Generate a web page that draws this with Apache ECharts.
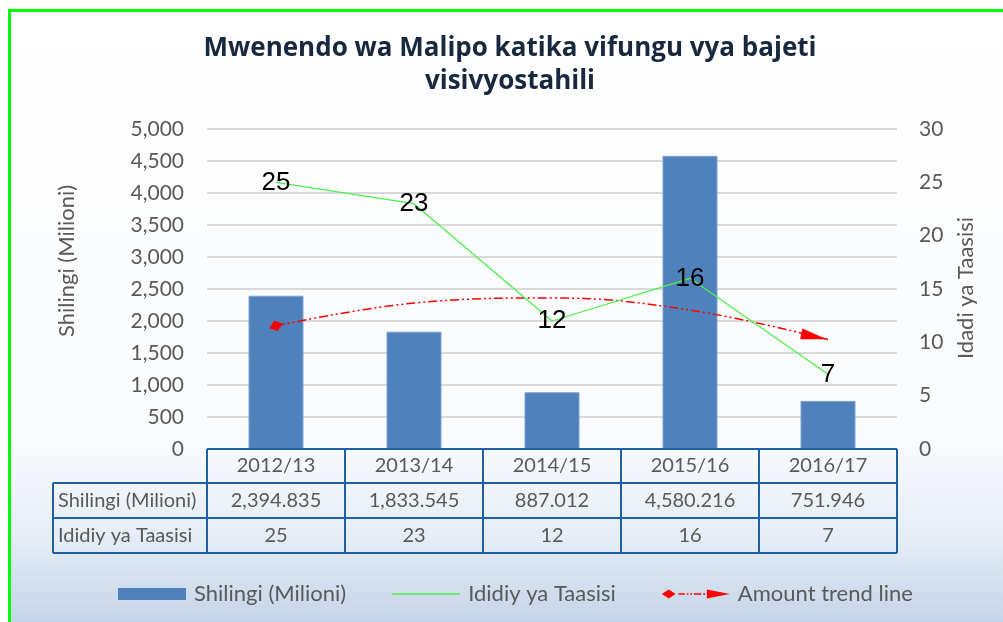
<!DOCTYPE html>
<html>
<head>
<meta charset="utf-8">
<script src="https://cdn.jsdelivr.net/npm/echarts@6/dist/echarts.min.js"></script>
<style>
html,body{margin:0;padding:0;background:#fff;overflow:hidden;}
#c{width:1003px;height:622px;}
</style>
</head>
<body>
<div id="c"></div>
<script>
// ---- data ----
const categories = ['2012/13', '2013/14', '2014/15', '2015/16', '2016/17'];
const amountLabel = 'Shilingi (Milioni)';
const countLabel = 'Ididiy ya Taasisi';
const trendLabel = 'Amount trend line';
const amounts = [2394.835, 1833.545, 887.012, 4580.216, 751.946];
const amountText = ['2,394.835', '1,833.545', '887.012', '4,580.216', '751.946'];
const counts = [25, 23, 12, 16, 7];
// trend line values
const trendValues = [1925, 2280, 2360, 2170, 1710];
const leftTicks = { min: 0, max: 5000, interval: 500 };
const rightTicks = { min: 0, max: 30, interval: 5 };
const titleText = 'Mwenendo wa Malipo katika vifungu vya bajeti\nvisivyostahili';
const leftAxisName = 'Shilingi (Milioni)';
const rightAxisName = 'Idadi ya Taasisi';

// ---- layout ----
const G = { left: 207, right: 897, top: 129, bottom: 449 };
const rows = [449, 483, 518, 553];
const labelColLeft = 53;
const FONT = 'Lato, "Noto Sans", sans-serif';
const GREY = '#595959';
const TBL = '#1f5fa3';
const GREEN = '#4cf04c';

const chart = echarts.init(document.getElementById('c'), null, { renderer: 'canvas' });

function buildTable() {
  const els = [];
  const n = categories.length;
  const cw = (G.right - G.left) / n;
  const line = (x1, y1, x2, y2) => ({
    type: 'line', silent: true, z: 20,
    shape: { x1, y1, x2, y2 },
    style: { stroke: TBL, lineWidth: 2 }
  });
  els.push(line(G.left, rows[0], G.right, rows[0]));
  for (let r = 1; r < rows.length; r++) els.push(line(labelColLeft, rows[r], G.right, rows[r]));
  els.push(line(labelColLeft, rows[1], labelColLeft, rows[3]));
  for (let i = 0; i <= n; i++) {
    const x = G.left + i * cw;
    els.push(line(x, rows[0], x, rows[3]));
  }
  const txt = (x, y, t, align) => ({
    type: 'text', silent: true, z: 21,
    style: { x, y, text: t, textAlign: align || 'center', textVerticalAlign: 'middle',
      font: '20px ' + FONT, fill: GREY }
  });
  const rowText = [categories, amountText, counts.map(String)];
  for (let r = 0; r < 3; r++) {
    const cy = (rows[r] + rows[r + 1]) / 2;
    for (let i = 0; i < n; i++) {
      els.push(txt(G.left + (i + 0.5) * cw, cy, rowText[r][i]));
    }
  }
  els.push(txt(labelColLeft + 5, (rows[1] + rows[2]) / 2, amountLabel, 'left'));
  els.push(txt(labelColLeft + 5, (rows[2] + rows[3]) / 2, countLabel, 'left'));
  return els;
}

const background = [
  {
    type: 'rect', silent: true, z: -10,
    shape: { x: 11, y: 12, width: 992, height: 610 },
    style: {
      fill: new echarts.graphic.LinearGradient(0, 0, 0, 1, [
        { offset: 0, color: '#ffffff' },
        { offset: 0.70, color: '#f9fbfd' },
        { offset: 0.86, color: '#e6edf6' },
        { offset: 1, color: '#c4d4e8' }
      ])
    }
  },
  { type: 'line', silent: true, z: -9, shape: { x1: 9.5, y1: 10.5, x2: 1003, y2: 10.5 },
    style: { stroke: '#00ff00', lineWidth: 3 } },
  { type: 'line', silent: true, z: -9, shape: { x1: 9.5, y1: 9, x2: 9.5, y2: 622 },
    style: { stroke: '#00ff00', lineWidth: 3 } }
];

const axisNames = [
  { type: 'text', silent: true, z: 5, x: 67, y: 261, rotation: Math.PI / 2,
    style: { x: 0, y: 0, text: leftAxisName, textAlign: 'center', textVerticalAlign: 'middle',
      font: '22px ' + FONT, fill: GREY } },
  { type: 'text', silent: true, z: 5, x: 966, y: 288, rotation: Math.PI / 2,
    style: { x: 0, y: 0, text: rightAxisName, textAlign: 'center', textVerticalAlign: 'middle',
      font: '22px ' + FONT, fill: GREY } }
];

const trendIcon = 'path://M0,6 L7.5,1 L15,6 L7.5,11 Z M18,5.2 L25,5.2 L25,6.8 L18,6.8 Z M27,5.2 L29,5.2 L29,6.8 L27,6.8 Z M31,5.2 L33,5.2 L33,6.8 L31,6.8 Z M35,5.2 L43,5.2 L43,6.8 L35,6.8 Z M45,5.2 L47,5.2 L47,6.8 L45,6.8 Z M49,1 L74,6 L49,11 Z';
const lineIcon = 'path://M0,0 L68,0 L68,1.5 L0,1.5 Z';

const trendData = trendValues.map((v, i) => {
  if (i === 0) return { value: v, symbol: 'diamond', symbolSize: [11, 14], symbolRotate: -70 };
  if (i === trendValues.length - 1) return { value: v, symbol: 'triangle', symbolSize: [11, 26], symbolRotate: -102, symbolOffset: [-14, -3] };
  return { value: v, symbol: 'none' };
});

const option = {
  animation: false,
  textStyle: { fontFamily: FONT },
  title: {
    text: titleText,
    left: 510,
    top: 32,
    padding: 0,
    textAlign: 'center',
    textStyle: { fontFamily: '"Open Sans", sans-serif', fontWeight: 'bold', fontSize: 26, lineHeight: 33, color: '#18283f' }
  },
  legend: {
    left: 113,
    top: 578,
    itemWidth: 68,
    itemHeight: 12,
    itemGap: 46,
    textStyle: { fontFamily: FONT, fontSize: 22, color: GREY, padding: [0, 0, 0, 3] },
    data: [
      { name: amountLabel, icon: 'rect', itemStyle: { borderWidth: 0 } },
      { name: countLabel, icon: lineIcon, itemStyle: { color: GREEN } },
      { name: trendLabel, icon: trendIcon }
    ]
  },
  grid: { left: G.left, right: 1003 - G.right, top: G.top, bottom: 622 - G.bottom },
  xAxis: {
    type: 'category', data: categories,
    axisLine: { show: false }, axisTick: { show: false }, axisLabel: { show: false }
  },
  yAxis: [
    {
      type: 'value', min: leftTicks.min, max: leftTicks.max, interval: leftTicks.interval,
      axisLine: { show: false }, axisTick: { show: false },
      axisLabel: { margin: 23, fontSize: 21, color: GREY, fontFamily: FONT,
        formatter: v => v.toLocaleString('en-US') },
      splitLine: { lineStyle: { color: '#d9d9d9', width: 2 } }
    },
    {
      type: 'value', min: rightTicks.min, max: rightTicks.max, interval: rightTicks.interval,
      position: 'right',
      axisLine: { show: false }, axisTick: { show: false },
      axisLabel: { margin: 22, fontSize: 21, color: GREY, fontFamily: FONT },
      splitLine: { show: false }
    }
  ],
  series: [
    {
      name: amountLabel, type: 'bar', data: amounts, barWidth: 55, yAxisIndex: 0,
      itemStyle: { color: '#4f81bd', borderColor: '#7fa2d1', borderWidth: 1 }, z: 2
    },
    {
      name: trendLabel, type: 'line', data: trendData, yAxisIndex: 0, smooth: 0.4,
      showSymbol: true, showAllSymbol: true,
      itemStyle: { color: '#ff0000' },
      lineStyle: { color: '#ff0000', width: 1.5, type: [9, 3, 2, 3, 2, 3] }, z: 3
    },
    {
      name: countLabel, type: 'line', data: counts, yAxisIndex: 1,
      symbol: 'circle', symbolSize: 2, showSymbol: true, showAllSymbol: true,
      itemStyle: { color: 'rgba(0,0,0,0)' },
      lineStyle: { color: GREEN, width: 1.3 },
      label: { show: true, position: 'inside', fontFamily: '"Liberation Sans", Arial, sans-serif',
        fontSize: 26, color: '#000000' }, z: 4
    }
  ],
  graphic: background.concat(axisNames, buildTable())
};

chart.setOption(option);
</script>
</body>
</html>
